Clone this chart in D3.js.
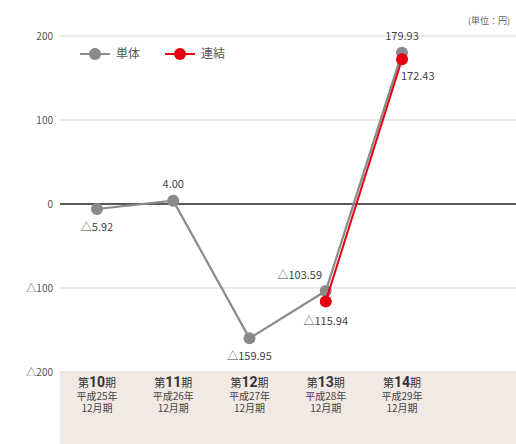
<!DOCTYPE html>
<html>
<head>
    <meta charset="utf-8">
    <script src="https://cdn.jsdelivr.net/npm/d3@7"></script>
    <style>
        html, body { margin: 0; padding: 0; background: #fff; }
        svg { display: block; font-family: "Noto Sans CJK JP", "Noto Sans", sans-serif; }
        .tick-label { font-size: 10px; fill: #555; }
        .val { font-size: 11px; fill: #444; }
    </style>
</head>
<body>
<svg id="chart" width="516" height="444"></svg>
<script>
    // periods and values (円)
    var periods = ["10", "11", "12", "13", "14"];
    var years = ["平成25年", "平成26年", "平成27年", "平成28年", "平成29年"];
    var single = [-5.92, 4.00, -159.95, -103.59, 179.93];
    var consolidated = [null, null, null, -115.94, 172.43];
    var yTicks = [200, 100, 0, -100, -200];

    var svg = d3.select("#chart"),
        left = 60, right = 516;

    var y = d3.scaleLinear().domain([-200, 200]).range([372, 36]);
    var x = d3.scalePoint().domain(periods).range([97, 402]);

    function fmt(v) {
        return (v < 0 ? "△" : "") + Math.abs(v).toFixed(2);
    }
    function tickFmt(v) {
        return v < 0 ? "△" + Math.abs(v) : String(v);
    }

    // category band under the plot
    svg.append("rect")
        .attr("x", left).attr("y", y(-200))
        .attr("width", right - left).attr("height", 444 - y(-200))
        .attr("fill", "#f2e9e5");

    // grid lines
    svg.selectAll("line.grid").data(yTicks).enter().append("line")
        .attr("x1", left).attr("x2", right)
        .attr("y1", function(d) { return y(d); })
        .attr("y2", function(d) { return y(d); })
        .attr("stroke", function(d) { return d === 0 ? "#222" : "#d6d6d6"; })
        .attr("stroke-width", function(d) { return d === 0 ? 1.3 : 1; });

    svg.selectAll("text.ytick").data(yTicks).enter().append("text")
        .attr("class", "tick-label")
        .attr("x", 53)
        .attr("y", function(d) { return y(d); })
        .attr("dy", "0.35em")
        .attr("text-anchor", "end")
        .text(tickFmt);

    // category labels
    var cat = svg.selectAll("g.cat").data(periods).enter().append("g")
        .attr("transform", function(d) { return "translate(" + x(d) + ",0)"; });
    var t1 = cat.append("text").attr("y", 387).attr("text-anchor", "middle")
        .attr("fill", "#333");
    t1.append("tspan").attr("font-size", 11).text("第");
    t1.append("tspan").attr("font-size", 14).attr("font-weight", "bold")
        .attr("font-family", "Roboto, sans-serif").text(function(d) { return d; });
    t1.append("tspan").attr("font-size", 11).text("期");
    cat.append("text").attr("y", 400).attr("text-anchor", "middle")
        .attr("font-size", 10).attr("fill", "#444")
        .text(function(d, i) { return years[i]; });
    cat.append("text").attr("y", 412).attr("text-anchor", "middle")
        .attr("font-size", 10).attr("fill", "#444")
        .text("12月期");

    // lines
    var line = d3.line()
        .defined(function(d) { return d.v !== null; })
        .x(function(d) { return x(d.p); })
        .y(function(d) { return y(d.v); });

    var sData = periods.map(function(p, i) { return { p: p, v: single[i] }; });
    var cData = periods.map(function(p, i) { return { p: p, v: consolidated[i] }; });

    svg.append("path").datum(sData).attr("d", line)
        .attr("fill", "none").attr("stroke", "#8a8a8a").attr("stroke-width", 2.2);
    svg.selectAll("circle.s").data(sData).enter().append("circle")
        .attr("cx", function(d) { return x(d.p); })
        .attr("cy", function(d) { return y(d.v); })
        .attr("r", 6).attr("fill", "#8a8a8a");

    svg.append("path").datum(cData).attr("d", line)
        .attr("fill", "none").attr("stroke", "#e60012").attr("stroke-width", 2);
    svg.selectAll("circle.c").data(cData.filter(function(d) { return d.v !== null; }))
        .enter().append("circle")
        .attr("cx", function(d) { return x(d.p); })
        .attr("cy", function(d) { return y(d.v); })
        .attr("r", 6).attr("fill", "#e60012");

    // value labels: [series, index, dx, dy, anchor]
    var labels = [
        [single, 0, 0, 22, "middle"],
        [single, 1, 0, -13, "middle"],
        [single, 2, 0, 22, "middle"],
        [single, 3, -26, -12, "middle"],
        [single, 4, 0, -13, "middle"],
        [consolidated, 3, 0, 24, "middle"],
        [consolidated, 4, -1, 21, "start"]
    ];
    svg.selectAll("text.val").data(labels).enter().append("text")
        .attr("class", "val")
        .attr("x", function(d) { return x(periods[d[1]]) + d[2]; })
        .attr("y", function(d) { return y(d[0][d[1]]) + d[3]; })
        .attr("text-anchor", function(d) { return d[4]; })
        .text(function(d) { return fmt(d[0][d[1]]); });

    // legend
    var legend = [["単体", "#8a8a8a", 80], ["連結", "#e60012", 165]];
    var lg = svg.selectAll("g.legend").data(legend).enter().append("g")
        .attr("transform", function(d) { return "translate(" + d[2] + ",54)"; });
    lg.append("line").attr("x1", 0).attr("x2", 30)
        .attr("stroke", function(d) { return d[1]; }).attr("stroke-width", 2);
    lg.append("circle").attr("cx", 15).attr("r", 6)
        .attr("fill", function(d) { return d[1]; });
    lg.append("text").attr("x", 36).attr("dy", "0.35em")
        .attr("font-size", 12).attr("fill", "#555")
        .text(function(d) { return d[0]; });

    svg.append("text").attr("x", 510).attr("y", 24)
        .attr("text-anchor", "end").attr("font-size", 9).attr("fill", "#666")
        .text("(単位：円)");
</script>
</body>
</html>
